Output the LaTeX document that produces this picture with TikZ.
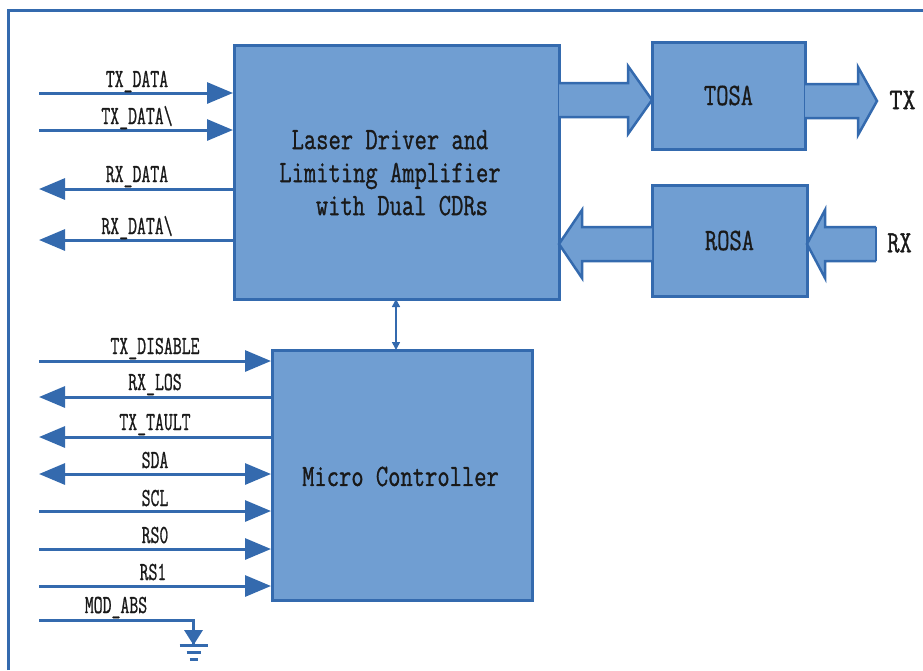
\documentclass[tikz,border=0pt]{standalone}
\usepackage{graphicx}
\usepackage{fontspec}
\setmonofont{Latin Modern Mono}[FakeBold=1.1]
\usetikzlibrary{calc,arrows.meta}
\definecolor{boxfill}{RGB}{112,158,210}
\definecolor{boxline}{RGB}{52,106,174}
\definecolor{inktext}{RGB}{25,25,25}
\newcommand\sig[1]{\scalebox{.665}[1]{\fontsize{26}{26}\selectfont\ttfamily #1}}
\newcommand\bigtxt[1]{\scalebox{.77}[1]{\fontsize{31}{33}\selectfont\ttfamily #1}}
\newcommand\blockarrow[3]{%
  \draw[blockarr] let \p1=(#1),\p2=(#2) in
   (\x1,\y1+17pt) -- (\x2-#3,\y1+17pt) -- (\x2-#3,\y1+34pt) -- (\x2,\y1)
   -- (\x2-#3,\y1-34pt) -- (\x2-#3,\y1-17pt) -- (\x1,\y1-17pt);}
\tikzset{
  bigbox/.style={draw=boxline,fill=boxfill,line width=3pt,rectangle,inner sep=0pt,outer sep=0pt,text=inktext},
  blockarr/.style={draw=boxline,fill=boxfill,line width=2.5pt,line join=miter},
  sigline/.style={draw=boxline,line width=3pt},
  tipin/.style={sigline,-{Triangle[length=26pt,width=21pt,fill=boxline]},shorten >=1pt},
  tipout/.style={sigline,-{Triangle[length=26pt,width=21pt,fill=boxline]}},
  tipboth/.style={sigline,{Triangle[length=26pt,width=21pt,fill=boxline]}-{Triangle[length=26pt,width=21pt,fill=boxline]}},
  siglabel/.style={anchor=base,inner sep=0pt,text=inktext},
}
\begin{document}
\begin{tikzpicture}[x=1pt,y=-1pt]
\useasboundingbox (0,0) rectangle (923,670);
\draw[boxline,line width=3pt] (8,670) -- (8,10) -- (923,10);

\node[bigbox,minimum width=325pt,minimum height=254pt] (main) at (396.5,172) {};
\node[text=inktext,inner sep=0pt] (maintext) at (390,175.5) {\bigtxt{\begin{tabular}{@{}c@{}}Laser Driver and\\Limiting Amplifier\\\hspace*{1.0em}with Dual CDRs\end{tabular}}};
\node[bigbox,minimum width=153pt,minimum height=107pt] (tosa) at (728.5,95.5) {\bigtxt{TOSA}};
\node[bigbox,minimum width=155pt,minimum height=111pt] (rosa) at (729.5,240.5) {\bigtxt{ROSA}};
\node[bigbox,minimum width=260pt,minimum height=250pt] (micro) at (402,475) {};
\node[text=inktext,inner sep=0pt] (microtext) at (400.5,476.5) {\bigtxt{Micro Controller}};

\node[text=inktext,inner sep=0pt] (txout) at (902.5,100) {\scalebox{.85}[1]{\fontsize{30}{30}\selectfont\ttfamily\bfseries TX}};
\node[text=inktext,inner sep=0pt] (rxin) at (899.5,243) {\bigtxt{RX}};

% block arrows
\coordinate (a1) at (main.east |- 0,100);
\coordinate (a2) at (tosa.west |- 0,100);
\blockarrow{a1}{a2}{24pt}
\coordinate (b1) at (tosa.east |- 0,101);
\coordinate (b2) at (877,101);
\blockarrow{b1}{b2}{19pt}
\coordinate (c1) at (rosa.west |- 0,244);
\coordinate (c2) at (main.east |- 0,244);
\blockarrow{c1}{c2}{-23pt}
\coordinate (d1) at (876,244);
\coordinate (d2) at (rosa.east |- 0,244);
\blockarrow{d1}{d2}{-18pt}
\draw[boxline,line width=2.5pt] (d1)++(0,-17) -- ++(0,34);

% main box signals
\foreach \nm/\yy in {p1/93,p2/130,p3/189,p4/240}{\coordinate (\nm) at (39,\yy);}
\draw[tipin] (p1) -- (main.west |- p1);
\draw[tipin] (p2) -- (main.west |- p2);
\draw[tipout] (main.west |- p3) -- (p3);
\draw[tipout] (main.west |- p4) -- (p4);
\node[siglabel] (l1) at (137,87) {\sig{TX\_DATA}};
\node[siglabel] (l2) at (137,124) {\sig{TX\_DATA\textbackslash}};
\node[siglabel] (l3) at (137,182) {\sig{RX\_DATA}};
\node[siglabel] (l4) at (137,234) {\sig{RX\_DATA\textbackslash}};

% bus
\draw[boxline,line width=1.5pt,{Triangle[length=8pt,width=8pt]}-{Triangle[length=8pt,width=8pt]}] (main.south -| 396,0) -- (micro.north -| 396,0);

% micro signals
\foreach \nm/\yy in {q1/361,q2/397,q3/437,q4/474,q5/511,q6/549,q7/586}{\coordinate (\nm) at (39,\yy);}
\draw[tipin] (q1) -- (micro.west |- q1);
\draw[tipout] (micro.west |- q2) -- (q2);
\draw[tipout] (micro.west |- q3) -- (q3);
\draw[tipboth,shorten >=1pt] (q4) -- (micro.west |- q4);
\draw[tipin] (q5) -- (micro.west |- q5);
\draw[tipin] (q6) -- (micro.west |- q6);
\draw[tipin] (q7) -- (micro.west |- q7);
\node[siglabel] (m1) at (155,354) {\sig{TX\_DISABLE}};
\node[siglabel] (m2) at (155,390) {\sig{RX\_LOS}};
\node[siglabel] (m3) at (155,430) {\sig{TX\_TAULT}};
\node[siglabel] (m4) at (155,468) {\sig{SDA}};
\node[siglabel] (m5) at (155,506) {\sig{SCL}};
\node[siglabel] (m6) at (155,543) {\sig{RS0}};
\node[siglabel] (m7) at (153,580) {\sig{RS1}};
\node[siglabel] (m8) at (116,613) {\sig{MOD\_ABS}};

% ground
\coordinate (g0) at (39,620);
\coordinate (g1) at (193.5,645);
\draw[sigline] (g0) -- (g0 -| g1) -- (g1);
\fill[boxline] (184,630) -- (203,630) -- (g1) -- cycle;
\draw[sigline] ($(g1)+(-14,0)$) -- ($(g1)+(14,0)$);
\draw[sigline] ($(g1)+(-7,7)$) -- ($(g1)+(7,7)$);
\draw[sigline] ($(g1)+(-4,14)$) -- ($(g1)+(4,14)$);
\end{tikzpicture}
\end{document}
